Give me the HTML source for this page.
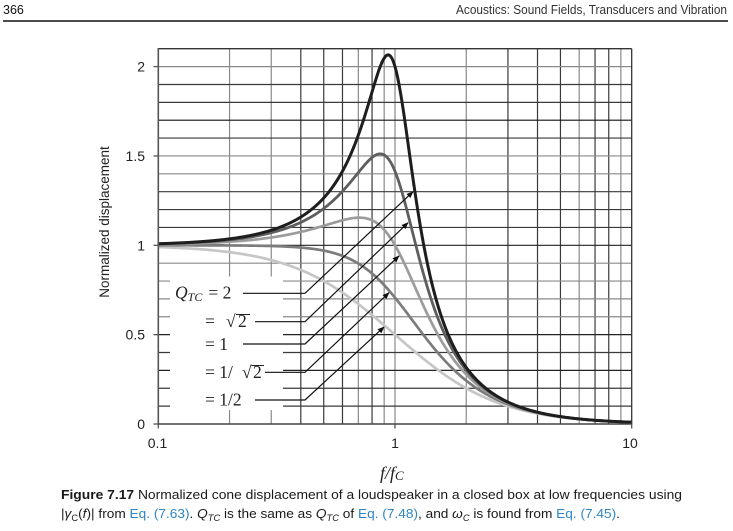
<!DOCTYPE html>
<html><head><meta charset="utf-8">
<style>
html,body{margin:0;padding:0;background:#fff;}
svg{display:block;}
</style></head>
<body>
<svg id="s" width="733" height="531" viewBox="0 0 733 531" xmlns="http://www.w3.org/2000/svg">
<defs>
<marker id="ah" viewBox="0 0 10 10" refX="9" refY="5" markerWidth="7" markerHeight="7" orient="auto" markerUnits="userSpaceOnUse">
<path d="M0,1 L10,5 L0,9 z" fill="#111"/>
</marker>
<clipPath id="pc"><rect x="158.3" y="48.7" width="473.4" height="375.3"/></clipPath>
</defs>
<rect width="733" height="531" fill="#fff"/>
<!-- header -->
<text x="3" y="14" font-family="Liberation Sans, sans-serif" font-size="12.5" fill="#111">366</text>
<text x="727" y="14" text-anchor="end" font-family="Liberation Sans, sans-serif" font-size="12.5" fill="#333" textLength="271" lengthAdjust="spacingAndGlyphs">Acoustics: Sound Fields, Transducers and Vibration</text>
<line x1="3" y1="21" x2="728" y2="21" stroke="#111" stroke-width="1.6"/>

<!-- grid verticals -->
<g stroke-width="1.2" fill="none">
<g stroke="#8a8a8a">
<line x1="229.55" y1="48.7" x2="229.55" y2="424"/>
<line x1="271.24" y1="48.7" x2="271.24" y2="424"/>
<line x1="358.34" y1="48.7" x2="358.34" y2="424"/>
<line x1="384.17" y1="48.7" x2="384.17" y2="424"/>
<line x1="395" y1="48.7" x2="395" y2="424"/>
<line x1="466.25" y1="48.7" x2="466.25" y2="424"/>
<line x1="579.19" y1="48.7" x2="579.19" y2="424"/>
<line x1="620.87" y1="48.7" x2="620.87" y2="424"/>
</g>
<g stroke="#3a3a3a">
<line x1="300.81" y1="48.7" x2="300.81" y2="424"/>
<line x1="323.75" y1="48.7" x2="323.75" y2="424"/>
<line x1="342.49" y1="48.7" x2="342.49" y2="424"/>
<line x1="372.06" y1="48.7" x2="372.06" y2="424"/>
<line x1="507.94" y1="48.7" x2="507.94" y2="424"/>
<line x1="537.51" y1="48.7" x2="537.51" y2="424"/>
<line x1="560.45" y1="48.7" x2="560.45" y2="424"/>
<line x1="595.04" y1="48.7" x2="595.04" y2="424"/>
<line x1="608.76" y1="48.7" x2="608.76" y2="424"/>
</g>
<!-- grid horizontals -->
<g stroke="#8a8a8a">
<line x1="158.3" y1="66.6" x2="631.7" y2="66.6"/>
<line x1="158.3" y1="155.95" x2="631.7" y2="155.95"/>
<line x1="158.3" y1="173.82" x2="631.7" y2="173.82"/>
<line x1="158.3" y1="263.17" x2="631.7" y2="263.17"/>
<line x1="158.3" y1="281.04" x2="631.7" y2="281.04"/>
<line x1="158.3" y1="298.91" x2="631.7" y2="298.91"/>
<line x1="158.3" y1="316.78" x2="631.7" y2="316.78"/>
</g>
<g stroke="#3a3a3a">
<line x1="158.3" y1="84.47" x2="631.7" y2="84.47"/>
<line x1="158.3" y1="102.34" x2="631.7" y2="102.34"/>
<line x1="158.3" y1="120.21" x2="631.7" y2="120.21" stroke="#111"/>
<line x1="158.3" y1="138.08" x2="631.7" y2="138.08"/>
<line x1="158.3" y1="191.69" x2="631.7" y2="191.69"/>
<line x1="158.3" y1="209.56" x2="631.7" y2="209.56"/>
<line x1="158.3" y1="227.43" x2="631.7" y2="227.43"/>
<line x1="158.3" y1="245.3" x2="631.7" y2="245.3" stroke="#222"/>
<line x1="158.3" y1="334.65" x2="631.7" y2="334.65" stroke="#222"/>
<line x1="158.3" y1="352.52" x2="631.7" y2="352.52"/>
<line x1="158.3" y1="370.39" x2="631.7" y2="370.39" stroke="#222"/>
<line x1="158.3" y1="388.26" x2="631.7" y2="388.26"/>
<line x1="158.3" y1="406.13" x2="631.7" y2="406.13"/>
</g>
</g>

<!-- white label box -->
<rect x="170" y="276.5" width="113" height="133.5" fill="#fff"/>

<!-- curves -->
<g clip-path="url(#pc)" fill="none" stroke-linejoin="round" stroke-linecap="round">
<path id="c5" stroke="#c6c6c6" stroke-width="2.7"/>
<path id="c4" stroke="#7c7c7c" stroke-width="2.7"/>
<path id="c3" stroke="#9c9c9c" stroke-width="2.7"/>
<path id="c2" stroke="#5e5e5e" stroke-width="2.8"/>
<path id="c1" stroke="#1e1e1e" stroke-width="3"/>
</g>

<!-- plot border / axes -->
<g fill="none">
<line x1="158.3" y1="48.7" x2="631.7" y2="48.7" stroke="#333" stroke-width="1.3"/>
<line x1="631.7" y1="48.7" x2="631.7" y2="424" stroke="#333" stroke-width="1.3"/>
<line x1="158.3" y1="48" x2="158.3" y2="424.7" stroke="#555" stroke-width="1.6"/>
<line x1="157.5" y1="424" x2="632.4" y2="424" stroke="#444" stroke-width="1.5"/>
<g stroke="#555" stroke-width="1.3">
<line x1="153.5" y1="66.6" x2="158.3" y2="66.6"/>
<line x1="153.5" y1="155.95" x2="158.3" y2="155.95"/>
<line x1="153.5" y1="245.3" x2="158.3" y2="245.3"/>
<line x1="153.5" y1="334.65" x2="158.3" y2="334.65"/>
<line x1="153.5" y1="424" x2="158.3" y2="424"/>
<line x1="158.3" y1="424" x2="158.3" y2="428.5"/>
<line x1="395" y1="424" x2="395" y2="428.5"/>
<line x1="631.7" y1="424" x2="631.7" y2="428.5"/>
</g>
</g>

<!-- leader lines and arrows -->
<g stroke="#111" stroke-width="1.2" fill="none">
<polyline points="243,293.3 305,293.3 413,191.7" marker-end="url(#ah)"/>
<polyline points="255,321.7 305,321.7 408,222.7" marker-end="url(#ah)"/>
<polyline points="243,344 305,344 399,256" marker-end="url(#ah)"/>
<polyline points="265,372.3 305,372.3 389,292.7" marker-end="url(#ah)"/>
<polyline points="255,400 305,400 384,327" marker-end="url(#ah)"/>
</g>

<!-- legend labels -->
<g font-family="Liberation Serif, serif" font-size="17.5" fill="#222">
<text x="175" y="298.5"><tspan font-style="italic">Q</tspan><tspan font-style="italic" font-size="12" dy="2.5">TC</tspan><tspan dy="-2.5" x="204"> = 2</tspan></text>
<text x="205" y="327"> = <tspan x="226">√</tspan><tspan x="238">2</tspan></text>
<line x1="236" y1="314.5" x2="250" y2="314.5" stroke="#222" stroke-width="1"/>
<text x="205" y="350"> = 1</text>
<text x="205" y="378"> = 1/ <tspan x="242">√</tspan><tspan x="253">2</tspan></text>
<line x1="251.5" y1="365.5" x2="264" y2="365.5" stroke="#222" stroke-width="1"/>
<text x="205" y="405.5"> = 1/2</text>
</g>

<!-- tick labels -->
<g font-family="Liberation Sans, sans-serif" font-size="14" fill="#222">
<text x="145" y="71.6" text-anchor="end">2</text>
<text x="145" y="161" text-anchor="end">1.5</text>
<text x="145" y="250.3" text-anchor="end">1</text>
<text x="145" y="339.7" text-anchor="end">0.5</text>
<text x="145" y="429" text-anchor="end">0</text>
<text x="157.5" y="448" text-anchor="middle">0.1</text>
<text x="395" y="448" text-anchor="middle">1</text>
<text x="630" y="448" text-anchor="middle">10</text>
</g>
<text transform="translate(109,222) rotate(-90)" text-anchor="middle" font-family="Liberation Sans, sans-serif" font-size="13.5" fill="#222">Normalized displacement</text>
<text x="380" y="479" font-family="Liberation Serif, serif" font-style="italic" font-size="18" fill="#222">f/f<tspan font-size="13" dy="1">C</tspan></text>

<!-- caption -->
<g font-family="Liberation Sans, sans-serif" font-size="13.2" fill="#1a1a1a">
<text x="61" y="499" textLength="621" lengthAdjust="spacingAndGlyphs"><tspan font-weight="bold">Figure 7.17</tspan>  Normalized cone displacement of a loudspeaker in a closed box at low frequencies using</text>
<text x="61" y="518" textLength="559" lengthAdjust="spacingAndGlyphs">|<tspan font-style="italic">γ</tspan><tspan font-size="9" dy="3">C</tspan><tspan dy="-3">(</tspan><tspan font-style="italic">f</tspan>)| from <tspan fill="#2f86c2">Eq. (7.63)</tspan>. <tspan font-style="italic">Q</tspan><tspan font-style="italic" font-size="9" dy="3">TC</tspan><tspan dy="-3"> is the same as </tspan><tspan font-style="italic">Q</tspan><tspan font-style="italic" font-size="9" dy="3">TC</tspan><tspan dy="-3"> of </tspan><tspan fill="#2f86c2">Eq. (7.48)</tspan>, and <tspan font-style="italic">ω</tspan><tspan font-style="italic" font-size="9" dy="3">C</tspan><tspan dy="-3"> is found from </tspan><tspan fill="#2f86c2">Eq. (7.45)</tspan>.</text>
</g>
</svg>
<script>
(function(){
  var Qs={c1:2,c2:Math.SQRT2,c3:1,c4:1/Math.SQRT2,c5:0.5};
  for(var id in Qs){
    var Q=Qs[id],d="";
    for(var i=0;i<=500;i++){
      var lf=-1+2*i/500,f=Math.pow(10,lf);
      var h=1/Math.sqrt(Math.pow(1-f*f,2)+Math.pow(f/Q,2));
      var x=395+236.7*lf,y=424-178.7*h;
      d+=(i?"L":"M")+x.toFixed(2)+","+y.toFixed(2);
    }
    document.getElementById(id).setAttribute("d",d);
  }
})();
</script>
</body></html>
